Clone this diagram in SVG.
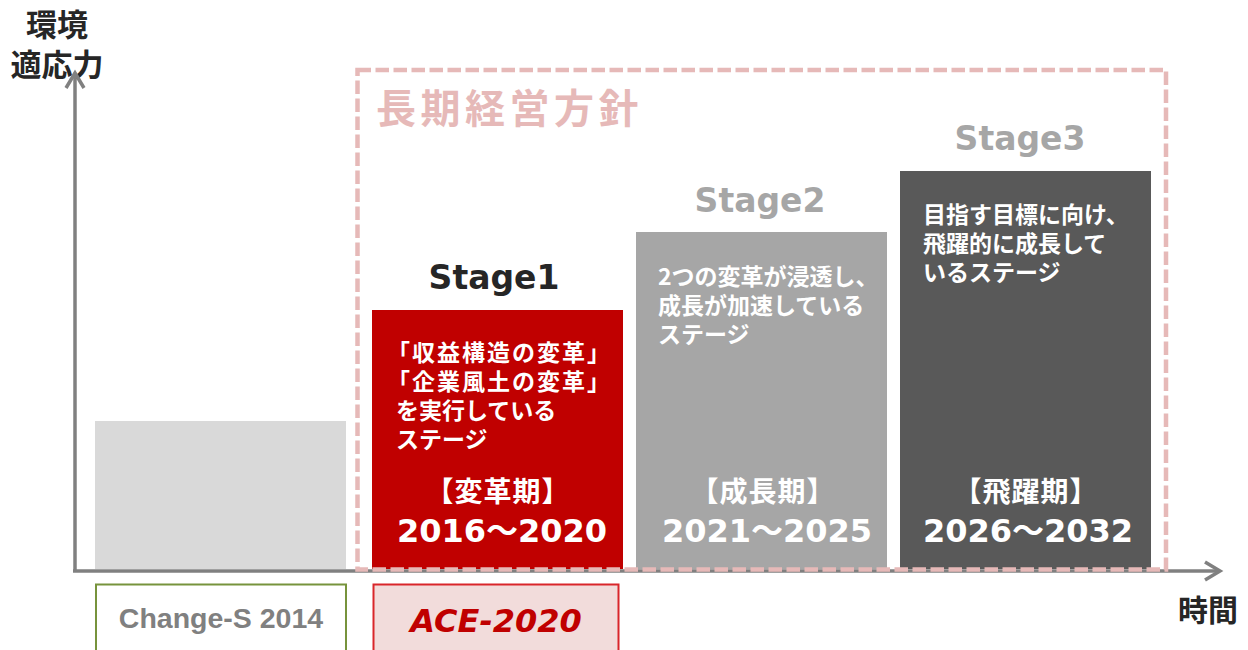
<svg xmlns="http://www.w3.org/2000/svg" width="1248" height="650" viewBox="0 0 1248 650">
<style>
.jp{font-family:"Noto Sans CJK JP","Noto Sans",sans-serif;font-weight:bold}
.lat{font-family:"DejaVu Sans","Noto Sans CJK JP",sans-serif;font-weight:bold}
.body{font-size:23px;fill:#ffffff}
.br{letter-spacing:2px}
.stage{font-size:33px;text-anchor:middle}
.period{font-size:28px;fill:#ffffff;text-anchor:middle;letter-spacing:1px}
.years{font-size:32px;fill:#ffffff;text-anchor:middle}
.axis{stroke:#808080;stroke-width:3.5;fill:none}
</style>
<rect width="1248" height="650" fill="#ffffff"/>

<g id="axis-labels">
<text class="jp" font-size="31" fill="#262626" text-anchor="middle"><tspan x="57" y="36">環境</tspan><tspan x="57" y="76">適応力</tspan></text>
<text class="jp" x="1208" y="621" font-size="30" fill="#262626" text-anchor="middle">時間</text>
</g>

<g id="connectors">
<path class="axis" d="M75,572 V74"/>
<path class="axis" d="M66,88 L75,73 L84,88"/>
<path class="axis" d="M73,571 H1219"/>
<path class="axis" d="M1205,562 L1220,571 L1205,580"/>
</g>

<g id="baseline-box">
<rect x="95" y="421" width="251" height="148" fill="#d9d9d9"/>
</g>

<g id="stage1">
<rect x="372" y="310" width="251" height="259" fill="#c00000"/>
<text class="lat stage" x="494" y="289" fill="#262626">Stage1</text>
<text class="jp body"><tspan class="br" x="387" y="361">「収益構造の変革」</tspan><tspan class="br" x="387" y="390">「企業風土の変革」</tspan><tspan x="396" y="419">を実行している</tspan><tspan x="396" y="448">ステージ</tspan></text>
<text class="jp period" x="498" y="502">【変革期】</text>
<text class="lat years" x="502" y="542">2016～2020</text>
</g>

<g id="stage2">
<rect x="636" y="232" width="251" height="337" fill="#a6a6a6"/>
<text class="lat stage" x="760" y="212" fill="#a6a6a6">Stage2</text>
<text class="jp body"><tspan x="658" y="285">2つの変革が浸透し、</tspan><tspan x="658" y="314">成長が加速している</tspan><tspan x="658" y="343">ステージ</tspan></text>
<text class="jp period" x="763" y="502">【成長期】</text>
<text class="lat years" x="767" y="542">2021～2025</text>
</g>

<g id="stage3">
<rect x="900" y="171" width="251" height="398" fill="#595959"/>
<text class="lat stage" x="1020" y="150" fill="#a6a6a6">Stage3</text>
<text class="jp body"><tspan x="923" y="223">目指す目標に向け、</tspan><tspan x="923" y="252">飛躍的に成長して</tspan><tspan x="923" y="281">いるステージ</tspan></text>
<text class="jp period" x="1026" y="502">【飛躍期】</text>
<text class="lat years" x="1028" y="542">2026～2032</text>
</g>

<g id="long-term-policy">
<rect x="357.5" y="70" width="808.5" height="499.5" fill="none" stroke="#e6b9b8" stroke-width="4.5" stroke-dasharray="13.5 4.5"/>
<text class="jp" x="376" y="123" font-size="40" letter-spacing="4.5" fill="#e6b9b8">長期経営方針</text>
</g>

<g id="change-s">
<rect x="96" y="584.5" width="250" height="80" fill="#ffffff" stroke="#77933c" stroke-width="2"/>
<text x="221" y="628" font-family="Liberation Sans, Arial, sans-serif" font-weight="bold" font-size="28.5" fill="#808080" text-anchor="middle">Change-S 2014</text>
</g>

<g id="ace-2020">
<rect x="373.5" y="584.5" width="245" height="80" fill="#f2dcdb" stroke="#d9262b" stroke-width="2"/>
<text class="lat" x="496" y="632" font-size="32" font-style="italic" fill="#c00000" text-anchor="middle">ACE-2020</text>
</g>
</svg>
